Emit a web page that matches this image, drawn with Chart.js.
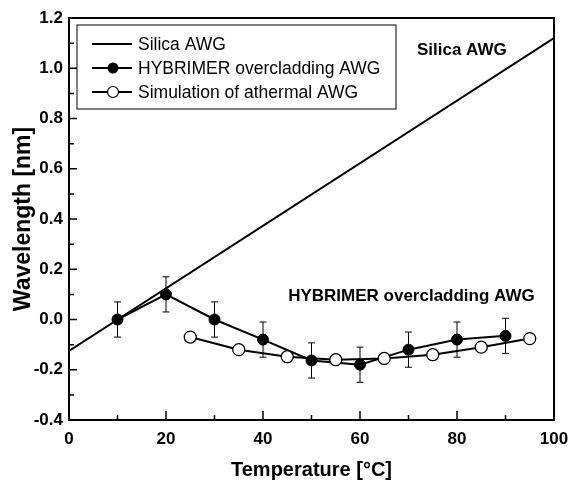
<!DOCTYPE html>
<html><head><meta charset="utf-8">
<script src="https://cdn.jsdelivr.net/npm/chart.js@4"></script>
<style>html,body{margin:0;padding:0;background:#fff}#wrap{width:570px;height:486px}</style>
</head><body><div id="wrap"><canvas id="c" width="570" height="486"></canvas></div>
<script>
const silicaX = [0, 100];
const silicaY = [-0.125, 1.12];
const hybX = [10, 20, 30, 40, 50, 60, 70, 80, 90];
const hybY = [0.0, 0.10, 0.0, -0.08, -0.163, -0.18, -0.12, -0.08, -0.065];
const hybErr = [0.07, 0.07, 0.07, 0.07, 0.07, 0.07, 0.07, 0.07, 0.07];
const simX = [25, 35, 45, 55, 65, 75, 85, 95];
const simY = [-0.07, -0.12, -0.148, -0.16, -0.155, -0.14, -0.11, -0.076];
const xTicks = [0, 20, 40, 60, 80, 100];
const yTicks = [-0.4, -0.2, 0.0, 0.2, 0.4, 0.6, 0.8, 1.0, 1.2];
const legendLabels = ['Silica AWG', 'HYBRIMER overcladding AWG', 'Simulation of athermal AWG'];
const annotations = [
  {text: 'Silica AWG', x: 81, y: 1.072},
  {text: 'HYBRIMER overcladding AWG', x: 70.6, y: 0.091}
];

const toPts = (xs, ys) => xs.map((x, i) => ({x, y: ys[i]}));
const FONT = '"Liberation Sans", Arial, sans-serif';

const framePlugin = {
  id: 'frame',
  afterDatasetsDraw(chart) {
    const {ctx, chartArea: a, scales: {x, y}} = chart;
    ctx.save();
    // error bars
    ctx.strokeStyle = '#000'; ctx.lineWidth = 1;
    hybX.forEach((xv, i) => {
      const px = x.getPixelForValue(xv);
      const t = y.getPixelForValue(hybY[i] + hybErr[i]);
      const b = y.getPixelForValue(hybY[i] - hybErr[i]);
      ctx.beginPath();
      ctx.moveTo(px, t); ctx.lineTo(px, b);
      ctx.moveTo(px - 3.5, t); ctx.lineTo(px + 3.5, t);
      ctx.moveTo(px - 3.5, b); ctx.lineTo(px + 3.5, b);
      ctx.stroke();
    });
    // frame
    ctx.lineWidth = 2;
    ctx.strokeRect(a.left, a.top, a.right - a.left, a.bottom - a.top);
    // inside ticks
    ctx.lineWidth = 1.5;
    ctx.beginPath();
    for (let v = 0; v <= 100; v += 10) {
      const px = x.getPixelForValue(v);
      const len = (v % 20 === 0) ? 9 : 5;
      ctx.moveTo(px, a.bottom); ctx.lineTo(px, a.bottom - len);
    }
    for (let k = -4; k <= 12; k++) {
      const py = y.getPixelForValue(k / 10);
      const len = (k % 2 === 0) ? 8 : 5;
      ctx.moveTo(a.left, py); ctx.lineTo(a.left + len, py);
    }
    ctx.stroke();
    // annotations
    ctx.fillStyle = '#000';
    ctx.font = 'bold 17px ' + FONT;
    ctx.textAlign = 'center'; ctx.textBaseline = 'middle';
    annotations.forEach(an => {
      ctx.fillText(an.text, x.getPixelForValue(an.x), y.getPixelForValue(an.y));
    });
    // legend
    const L = a.left + 8, T = a.top + 7, W = 319, H = 84;
    ctx.lineWidth = 1;
    ctx.strokeRect(L, T, W, H);
    ctx.font = '17.5px ' + FONT;
    ctx.textAlign = 'left';
    const rows = [T + 19, T + 43, T + 67];
    rows.forEach((ry, i) => {
      ctx.lineWidth = 2;
      ctx.strokeStyle = '#000';
      ctx.beginPath(); ctx.moveTo(L + 15, ry); ctx.lineTo(L + 55, ry); ctx.stroke();
      if (i === 1) {
        ctx.beginPath(); ctx.arc(L + 36, ry, 5.5, 0, Math.PI * 2); ctx.fillStyle = '#000'; ctx.fill();
      } else if (i === 2) {
        ctx.beginPath(); ctx.arc(L + 36, ry, 5.5, 0, Math.PI * 2); ctx.fillStyle = '#fff'; ctx.fill();
        ctx.lineWidth = 1.2; ctx.stroke();
      }
      ctx.fillStyle = '#000';
      ctx.fillText(legendLabels[i], L + 61, ry + 1);
    });
    ctx.restore();
  }
};

new Chart(document.getElementById('c'), {
  type: 'scatter',
  data: {
    datasets: [
      {label: legendLabels[0], data: toPts(silicaX, silicaY), showLine: true, borderColor: '#000', borderWidth: 2, pointRadius: 0},
      {label: legendLabels[2], data: toPts(simX, simY), showLine: true, borderColor: '#000', borderWidth: 2,
       pointRadius: 6, pointBackgroundColor: '#fff', pointBorderColor: '#000', pointBorderWidth: 1.3},
      {label: legendLabels[1], data: toPts(hybX, hybY), showLine: true, borderColor: '#000', borderWidth: 2,
       pointRadius: 5.5, pointBackgroundColor: '#000', pointBorderColor: '#000', pointBorderWidth: 1}
    ]
  },
  options: {
    responsive: false,
    animation: false,
    layout: {padding: {left: 0, top: 18, right: 16, bottom: 0}},
    plugins: {legend: {display: false}, tooltip: {enabled: false}},
    scales: {
      x: {
        type: 'linear', min: 0, max: 100,
        afterBuildTicks: s => { s.ticks = xTicks.map(v => ({value: v})); },
        afterFit: s => { s.height = 66; s.paddingLeft = 0; s.paddingRight = 0; },
        grid: {display: false, drawTicks: false, tickLength: 0}, border: {display: false},
        ticks: {color: '#000', padding: 9, maxRotation: 0, font: {family: FONT, size: 17, weight: 'bold'}},
        title: {display: true, text: 'Temperature [°C]', color: '#000', padding: {top: 8}, font: {family: FONT, size: 20, weight: 'bold'}}
      },
      y: {
        type: 'linear', min: -0.4, max: 1.2,
        afterBuildTicks: s => { s.ticks = yTicks.map(v => ({value: v})); },
        afterFit: s => { s.width = 69; s.paddingTop = 0; s.paddingBottom = 0; },
        grid: {display: false, drawTicks: false, tickLength: 0}, border: {display: false},
        ticks: {color: '#000', padding: 6, callback: v => v.toFixed(1), font: {family: FONT, size: 17, weight: 'bold'}},
        title: {display: true, text: 'Wavelength [nm]', color: '#000', padding: {top: 10, bottom: 0}, font: {family: FONT, size: 23, weight: 'bold'}}
      }
    }
  },
  plugins: [framePlugin]
});
</script>
</body></html>
